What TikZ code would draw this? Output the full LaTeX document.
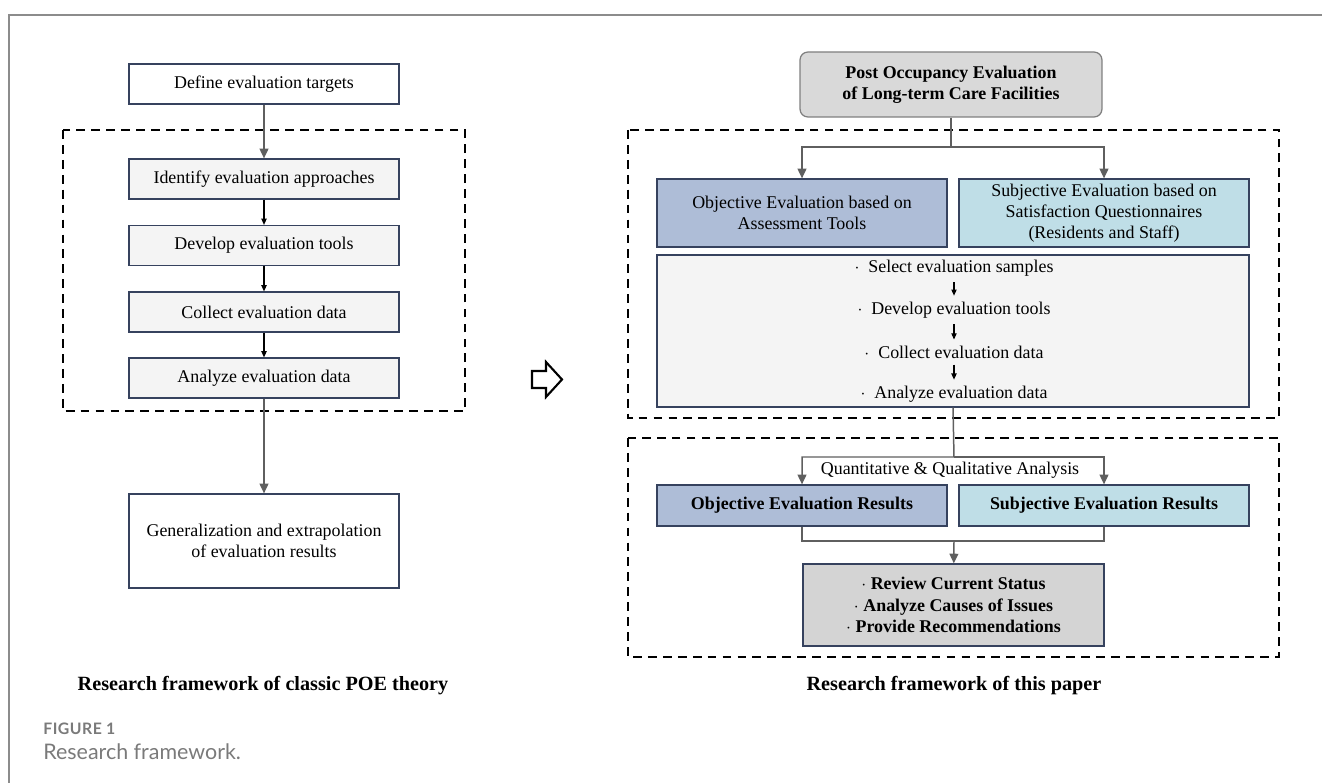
\documentclass[tikz,border=0pt]{standalone}
\usepackage{fontspec}
\setmainfont{Liberation Serif}
\newfontfamily\capfont{Lato}
\usepackage{tikz}
\usetikzlibrary{arrows.meta}

\definecolor{boxline}{HTML}{36425E}
\definecolor{stepfill}{HTML}{F4F4F4}
\definecolor{objfill}{HTML}{AEBDD7}
\definecolor{subjfill}{HTML}{BFDEE7}
\definecolor{poefill}{HTML}{D9D9D9}
\definecolor{poeline}{HTML}{7F7F7F}
\definecolor{finalfill}{HTML}{D4D4D4}
\definecolor{arrowgray}{HTML}{5F5F5F}
\definecolor{framegray}{HTML}{8C8C8C}
\definecolor{captiongray}{HTML}{7A7A7A}

\newcommand{\boxfont}{\fontsize{10.2}{11.9}\selectfont}

\begin{document}
\begin{tikzpicture}[x=0.02cm, y=-0.02cm,
    evalbox/.style={draw=boxline, line width=0.7pt, fill=white, minimum width=5.4cm,
        minimum height=0.8cm, inner sep=2pt, align=center, font=\boxfont},
    stepbox/.style={evalbox, fill=stepfill},
    objbox/.style={evalbox, fill=objfill, minimum width=5.8cm, minimum height=1.36cm},
    subjbox/.style={objbox, fill=subjfill},
    dashframe/.style={draw=black, line width=0.9pt, dash pattern=on 5pt off 3.5pt},
    grayline/.style={draw=arrowgray, line width=0.85pt},
    grayarrow/.style={grayline, -{Triangle[length=5.5pt, width=5pt]}},
    blackarrow/.style={draw=black, line width=0.6pt, -{Triangle[length=3.5pt, width=3pt]}}]
    \useasboundingbox (0,0) rectangle (1322,783);

    % outer frame
    \draw[framegray, line width=0.9pt] (9,783) -- (9,15) -- (1322,15);

    % classic POE framework
    \draw[dashframe] (63,130) rectangle (465,411);
    \node[evalbox] (define) at (264,84) {Define evaluation targets};
    \node[stepbox] (identify) at (264,179) {Identify evaluation approaches};
    \node[stepbox] (develop) at (264,245.5) {Develop evaluation tools};
    \node[stepbox] (collect) at (264,312) {Collect evaluation data};
    \node[stepbox] (analyze) at (264,378) {Analyze evaluation data};
    \node[evalbox, minimum height=1.88cm] (general) at (264,541)
        {Generalization and extrapolation\\of evaluation results};
    \draw[grayarrow] (define) -- (identify);
    \draw[blackarrow] (identify) -- (develop);
    \draw[blackarrow] (develop) -- (collect);
    \draw[blackarrow] (collect) -- (analyze);
    \draw[grayarrow] (analyze) -- (general);
    \node[font=\fontsize{11.5}{13}\selectfont\bfseries] (cap1) at (263,686)
        {Research framework of classic POE theory};

    % hollow arrow between the two frameworks
    \draw[line width=1.2pt, line join=miter] (532,371) -- (546,371) -- (546,362)
        -- (562,379.5) -- (546,397) -- (546,388) -- (532,388) -- cycle;

    % framework of this paper
    \node[evalbox, draw=poeline, fill=poefill, rounded corners=4.5pt, minimum width=6.04cm,
        minimum height=1.3cm, font=\boxfont\bfseries] (poe) at (951,84.5)
        {Post Occupancy Evaluation\\of Long-term Care Facilities};
    \draw[dashframe] (628,130) rectangle (1279,418);
    \node[objbox] (objective) at (802,213) {Objective Evaluation based on\\Assessment Tools};
    \node[subjbox] (subjective) at (1104,213)
        {Subjective Evaluation based on\\Satisfaction Questionnaires\\(Residents and Staff)};
    \coordinate (split1) at (951,147);
    \draw[grayarrow] (poe) -- (split1) -| (objective.north);
    \draw[grayarrow] (split1) -| (subjective.north);

    \node[stepbox, minimum width=11.84cm, minimum height=3.04cm] (steps) at (953,331) {};
    \node[font=\boxfont] (s1) at (954,268) {$\cdot$\ \ Select evaluation samples};
    \node[font=\boxfont] (s2) at (954,310) {$\cdot$\ \ Develop evaluation tools};
    \node[font=\boxfont] (s3) at (954,352) {$\cdot$\ \ Collect evaluation data};
    \node[font=\boxfont] (s4) at (954,394) {$\cdot$\ \ Analyze evaluation data};
    \draw[blackarrow] (s1) -- (s2);
    \draw[blackarrow] (s2) -- (s3);
    \draw[blackarrow] (s3) -- (s4);

    \draw[dashframe] (628,438) rectangle (1279,657);
    \node[objbox, minimum height=0.82cm, font=\boxfont\bfseries] (objres) at (802,505.5)
        {Objective Evaluation Results};
    \node[subjbox, minimum height=0.82cm, font=\boxfont\bfseries] (subjres) at (1104,505.5)
        {Subjective Evaluation Results};
    \coordinate (split2) at (954,457);
    \draw[grayarrow] (steps.south) -- (split2) -| (objres.north);
    \draw[grayarrow] (split2) -| (subjres.north);
    \node[font=\boxfont] (analysis) at (950,470) {Quantitative \& Qualitative Analysis};

    \node[evalbox, fill=finalfill, minimum width=6.02cm, minimum height=1.64cm,
        font=\fontsize{10.2}{12.2}\selectfont\bfseries] (final) at (953.5,605)
        {$\cdot$\ Review Current Status\\$\cdot$\ Analyze Causes of Issues\\
         $\cdot$\ Provide Recommendations};
    \coordinate (merge) at (954,541);
    \draw[grayline] (objres.south) |- (merge) -| (subjres.south);
    \draw[grayarrow] (merge) -- (final);
    \node[font=\fontsize{11.5}{13}\selectfont\bfseries] (cap2) at (954,686)
        {Research framework of this paper};

    % figure caption
    \node[anchor=west, inner sep=0pt, text=captiongray,
        font=\capfont\bfseries\fontsize{9}{11}\selectfont\addfontfeatures{LetterSpace=3}]
        (figno) at (43,729) {FIGURE 1};
    \node[anchor=west, inner sep=0pt, text=captiongray, font=\capfont\fontsize{12.2}{14}\selectfont]
        (figtitle) at (43,752) {Research framework.};
\end{tikzpicture}
\end{document}
